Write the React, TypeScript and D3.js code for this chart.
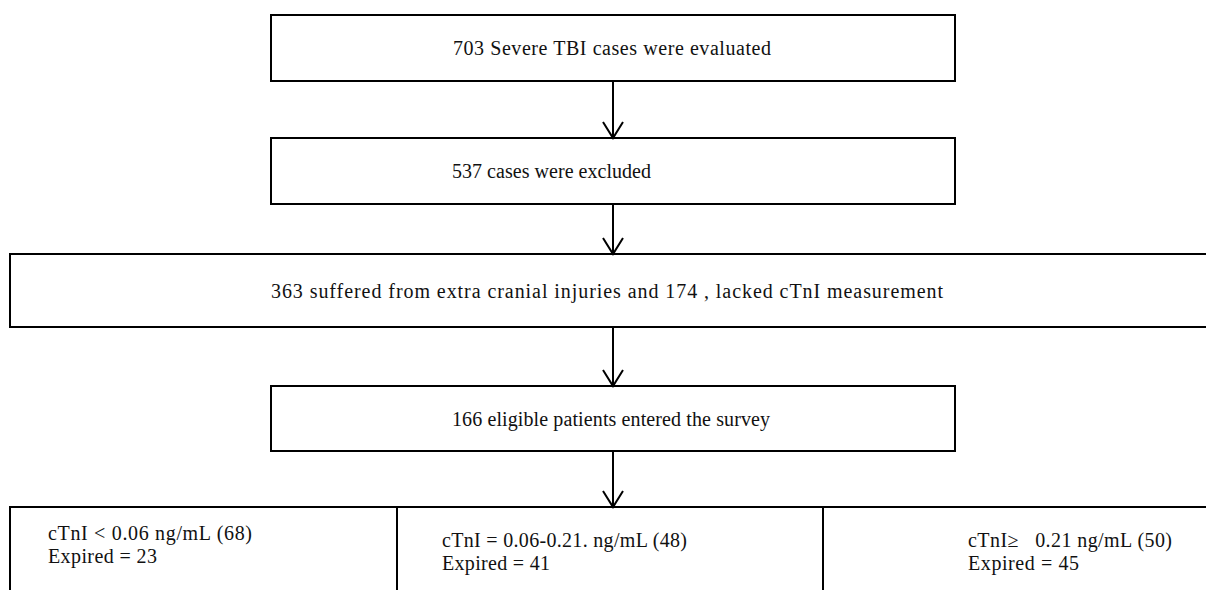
import React from "react";
import * as d3 from "d3";

// flow steps, top to bottom
const steps = [
  "703 Severe TBI cases were evaluated",
  "537 cases were excluded",
  "363 suffered from extra cranial injuries and 174 , lacked cTnI measurement",
  "166 eligible patients entered the survey",
];
const groupLabels = ["cTnI < 0.06 ng/mL (68)", "cTnI = 0.06-0.21. ng/mL (48)", "cTnI\u2265   0.21 ng/mL (50)"];
const expired = [23, 41, 45];

// layout
const W = 1206;
const H = 590;
const stepBoxes = [
  {x0: 271, x1: 955, y0: 15, y1: 81, tx: 453, tw: 318},
  {x0: 271, x1: 955, y0: 138, y1: 204, tx: 452, tw: 199},
  {x0: 10, x1: 1215, y0: 254, y1: 327, tx: 271, tw: 672},
  {x0: 271, x1: 955, y0: 386, y1: 451, tx: 452, tw: 318},
];
const groupTop = 507;
const groupEdges = [10, 397, 823, 1215];
const groupText = [
  {x: 48, y: 540, w1: 204, w2: 109},
  {x: 442, y: 547, w1: 245, w2: 108},
  {x: 968, y: 547, w1: 204, w2: 111},
];
const arrowX = 613;
const font = "'Liberation Serif', 'DejaVu Serif', serif";
const fs = 20;

function Arrow({y0, y1}: {y0: number; y1: number}) {
  const line = d3.line();
  return (
    <g fill="none" stroke="#000" strokeWidth={2}>
      <path d={line([[arrowX, y0], [arrowX, y1]]) || ""} />
      <path d={line([[arrowX - 10, y1 - 16], [arrowX, y1], [arrowX + 10, y1 - 16]]) || ""} />
    </g>
  );
}

export default function App() {
  const arrowEnds = stepBoxes.map((b, i) => ({
    y0: b.y1,
    y1: i < stepBoxes.length - 1 ? stepBoxes[i + 1].y0 : groupTop,
  }));
  return (
    <svg width={W} height={H} style={{position: "fixed", left: 0, top: 0, background: "#fff"}}>
      <rect width={W} height={H} fill="#fff" />
      {stepBoxes.map((b, i) => (
        <g key={i}>
          <rect x={b.x0} y={b.y0} width={b.x1 - b.x0} height={b.y1 - b.y0} fill="none" stroke="#000" strokeWidth={2} />
          <text
            x={b.tx}
            y={(b.y0 + b.y1) / 2 + 7}
            fontFamily={font}
            fontSize={fs}
            fill="#111"
            textLength={b.tw}
            lengthAdjust="spacing"
          >
            {steps[i]}
          </text>
        </g>
      ))}
      {arrowEnds.map((a, i) => (
        <Arrow key={i} y0={a.y0} y1={a.y1} />
      ))}
      {groupLabels.map((label, i) => (
        <g key={i}>
          <rect
            x={groupEdges[i]}
            y={groupTop}
            width={groupEdges[i + 1] - groupEdges[i]}
            height={H}
            fill="none"
            stroke="#000"
            strokeWidth={2}
          />
          <text fontFamily={font} fontSize={fs} fill="#111" style={{whiteSpace: "pre"}}>
            <tspan x={groupText[i].x} y={groupText[i].y} textLength={groupText[i].w1} lengthAdjust="spacing">
              {label}
            </tspan>
            <tspan x={groupText[i].x} y={groupText[i].y + 23} textLength={groupText[i].w2} lengthAdjust="spacing">
              {`Expired = ${expired[i]}`}
            </tspan>
          </text>
        </g>
      ))}
    </svg>
  );
}
